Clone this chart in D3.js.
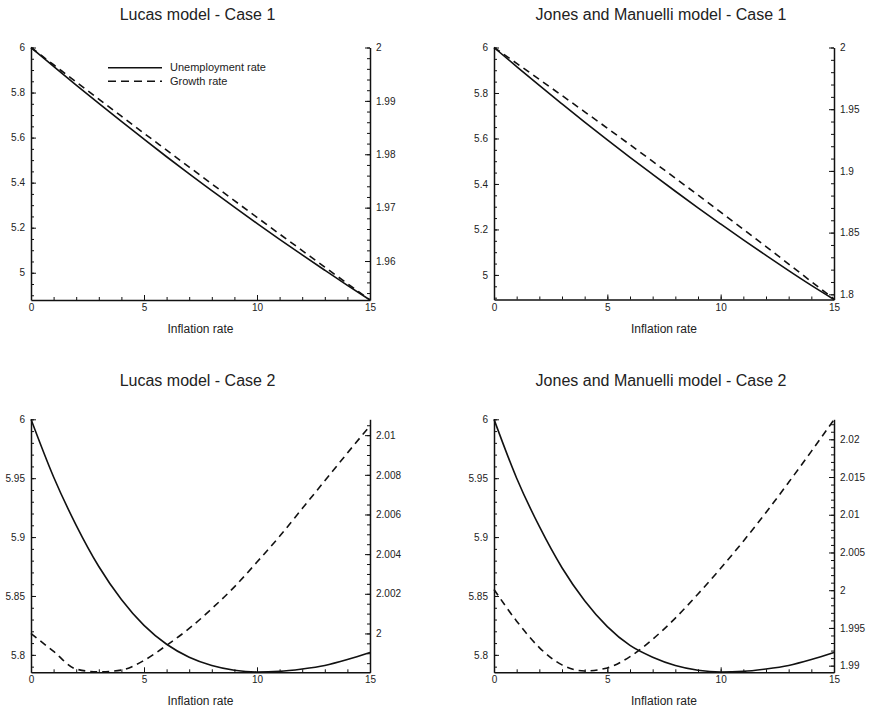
<!DOCTYPE html>
<html>
<head>
<meta charset="utf-8">
<script src="https://cdn.jsdelivr.net/npm/d3@7"></script>
<style>
body { margin:0; background:#fff; }
text { font-family:"Liberation Sans", Arial, Helvetica, sans-serif; fill:#222; }
</style>
</head>
<body>
<svg id="drawing_region"></svg>
<script>
// inflation rate grid (x)
const inflation = [0,1,2,3,4,5,6,7,8,9,10,11,12,13,14,15];

// Lucas model - Case 1
const lucas1Unemp  = [6.000,5.916,5.833,5.752,5.672,5.593,5.515,5.439,5.365,5.291,5.219,5.148,5.079,5.011,4.944,4.879];
const lucas1Growth = [2.0000,1.99677,1.99354,1.99033,1.98713,1.98394,1.98077,1.97760,1.97445,1.97131,1.96818,1.96506,1.96196,1.95886,1.95578,1.95271];

// Jones and Manuelli model - Case 1
const jm1Unemp  = [6.000,5.916,5.833,5.752,5.672,5.594,5.517,5.442,5.368,5.295,5.224,5.154,5.086,5.019,4.954,4.892];
const jm1Growth = [2.0000,1.98713,1.97415,1.96107,1.94789,1.93460,1.92121,1.90771,1.89411,1.88041,1.86660,1.85269,1.83867,1.82455,1.81033,1.79620];

// Lucas model - Case 2
const lucas2Unemp  = [6.000,5.951,5.910,5.875,5.847,5.825,5.809,5.798,5.791,5.787,5.7855,5.786,5.788,5.791,5.796,5.802];
const lucas2Growth = [2.0000,1.99909,1.99820,1.99806,1.99815,1.99864,1.99940,2.00025,2.00125,2.00235,2.00360,2.00490,2.00630,2.00770,2.00910,2.01047];

// Jones and Manuelli model - Case 2
const jm2Unemp  = [6.000,5.950,5.909,5.874,5.846,5.824,5.808,5.798,5.791,5.787,5.7855,5.786,5.788,5.791,5.796,5.802];
const jm2Growth = [2.0001,1.9959,1.9924,1.9901,1.9893,1.9897,1.9912,1.9935,1.9963,1.9995,2.0029,2.0065,2.0103,2.0143,2.0184,2.0226];

// tick labels
const xTicks = [0,5,10,15];
const case1LeftTicks = [5,5.2,5.4,5.6,5.8,6];
const case2LeftTicks = [5.8,5.85,5.9,5.95,6];
const lucas1RightTicks = [1.96,1.97,1.98,1.99,2];
const jm1RightTicks = [1.8,1.85,1.9,1.95,2];
const lucas2RightTicks = [2,2.002,2.004,2.006,2.008,2.01];
const jm2RightTicks = [1.99,1.995,2,2.005,2.01,2.015,2.02];

const legendLabels = ["Unemployment rate", "Growth rate"];

const svg = d3.select('#drawing_region')
    .attr('width', 869)
    .attr('height', 709);

class DualAxisPlot {

    constructor( config, unemp, growth ) {
        this.config = config;
        this.data = inflation.map( (x, i) => ({ x: x, u: unemp[i], g: growth[i] }) );
        this.init();
    }

    init() {
        let self = this;
        const c = self.config;

        self.inner_width = c.right - c.left;
        self.inner_height = c.bottom - c.top;

        self.chart = svg.append('g')
            .attr('transform', `translate(${c.left}, ${c.top})`);

        self.xscale = d3.scaleLinear()
            .domain( [0, 15] )
            .range( [0, self.inner_width] );

        self.yleft = d3.scaleLinear()
            .domain( c.left_domain )
            .range( [self.inner_height, 0] );

        self.yright = d3.scaleLinear()
            .domain( c.right_domain )
            .range( [self.inner_height, 0] );

        svg.append('text')
            .attr('x', (c.left + c.right) / 2 - 3)
            .attr('y', c.title_y)
            .attr('text-anchor', "middle")
            .attr('font-size', "16px")
            .text(c.title);

        svg.append('text')
            .attr('x', (c.left + c.right) / 2)
            .attr('y', c.bottom + 33)
            .attr('text-anchor', "middle")
            .attr('font-size', "12px")
            .text("Inflation rate");
    }

    minors( scale, step ) {
        const d = scale.domain();
        const lo = Math.min(d[0], d[1]), hi = Math.max(d[0], d[1]);
        return d3.range( Math.ceil(lo / step - 1e-6), Math.floor(hi / step + 1e-6) + 1 )
            .map( k => +(k * step).toFixed(6) );
    }

    render() {
        let self = this;
        const c = self.config;
        const fmt = d3.format("~g");
        const w = self.inner_width, h = self.inner_height;

        const styleAxis = g => {
            g.attr('font-size', 10);
            g.select('.domain').attr('stroke', "#111").attr('stroke-width', 1.5);
            g.selectAll('.tick line').attr('stroke', "#111").attr('stroke-width', 1);
        };
        const noDomain = g => g.select('.domain').remove();

        // minor ticks
        self.chart.append('g')
            .attr('transform', `translate(0, ${h})`)
            .call( d3.axisBottom(self.xscale).tickValues( self.minors(self.xscale, 1) ).tickSize(-3).tickFormat("") )
            .call(noDomain).call(styleAxis);
        self.chart.append('g')
            .call( d3.axisLeft(self.yleft).tickValues( self.minors(self.yleft, c.left_minor) ).tickSize(-3).tickFormat("") )
            .call(noDomain).call(styleAxis);
        self.chart.append('g')
            .attr('transform', `translate(${w}, 0)`)
            .call( d3.axisRight(self.yright).tickValues( self.minors(self.yright, c.right_minor) ).tickSize(-3).tickFormat("") )
            .call(noDomain).call(styleAxis);

        // major ticks and axis lines
        self.chart.append('g')
            .attr('transform', `translate(0, ${h})`)
            .call( d3.axisBottom(self.xscale).tickValues(xTicks).tickSize(-5).tickSizeOuter(0).tickPadding(4).tickFormat(fmt) )
            .call(styleAxis);
        self.chart.append('g')
            .call( d3.axisLeft(self.yleft).tickValues(c.left_ticks).tickSize(-5).tickSizeOuter(0).tickPadding(6).tickFormat(fmt) )
            .call(styleAxis);
        self.chart.append('g')
            .attr('transform', `translate(${w}, 0)`)
            .call( d3.axisRight(self.yright).tickValues(c.right_ticks).tickSize(-5).tickSizeOuter(0).tickPadding(6).tickFormat(fmt) )
            .call(styleAxis);

        const uline = d3.line()
            .x( d => self.xscale(d.x) )
            .y( d => self.yleft(d.u) )
            .curve(d3.curveMonotoneX);
        const gline = d3.line()
            .x( d => self.xscale(d.x) )
            .y( d => self.yright(d.g) )
            .curve(d3.curveMonotoneX);

        self.chart.append('path')
            .datum(self.data)
            .attr('fill', "none")
            .attr('stroke', "#111")
            .attr('stroke-width', 1.6)
            .attr('stroke-dasharray', "7,5")
            .attr('d', gline);

        self.chart.append('path')
            .datum(self.data)
            .attr('fill', "none")
            .attr('stroke', "#111")
            .attr('stroke-width', 1.6)
            .attr('d', uline);

        if (c.legend) {
            const lg = svg.append('g');
            legendLabels.forEach( (label, i) => {
                const y = c.legend.y + i * 13.5;
                lg.append('line')
                    .attr('x1', c.legend.x).attr('x2', c.legend.x + 54)
                    .attr('y1', y).attr('y2', y)
                    .attr('stroke', "#111")
                    .attr('stroke-width', 1.6)
                    .attr('stroke-dasharray', i == 0 ? null : "8,5");
                lg.append('text')
                    .attr('x', c.legend.x + 62)
                    .attr('y', y + 3.6)
                    .attr('font-size', "11px")
                    .text(label);
            });
        }
    }
}

const panels = [
    { config: { title: "Lucas model - Case 1", left: 31, right: 370, top: 47.5, bottom: 300, title_y: 19.5,
                left_domain: [4.879, 6], right_domain: [1.9527, 2],
                left_ticks: case1LeftTicks, right_ticks: lucas1RightTicks, left_minor: 0.05, right_minor: 0.002,
                legend: { x: 108, y: 67.7 } },
      unemp: lucas1Unemp, growth: lucas1Growth },
    { config: { title: "Jones and Manuelli model - Case 1", left: 494, right: 834, top: 47.5, bottom: 299.5, title_y: 19.5,
                left_domain: [4.892, 6], right_domain: [1.7958, 2],
                left_ticks: case1LeftTicks, right_ticks: jm1RightTicks, left_minor: 0.05, right_minor: 0.01 },
      unemp: jm1Unemp, growth: jm1Growth },
    { config: { title: "Lucas model - Case 2", left: 31, right: 370, top: 419.3, bottom: 672.3, title_y: 385.5,
                left_domain: [5.7852, 6], right_domain: [1.99804, 2.0108],
                left_ticks: case2LeftTicks, right_ticks: lucas2RightTicks, left_minor: 0.01, right_minor: 0.0005 },
      unemp: lucas2Unemp, growth: lucas2Growth },
    { config: { title: "Jones and Manuelli model - Case 2", left: 494, right: 834, top: 419.3, bottom: 672.3, title_y: 385.5,
                left_domain: [5.7852, 6], right_domain: [1.98912, 2.02265],
                left_ticks: case2LeftTicks, right_ticks: jm2RightTicks, left_minor: 0.01, right_minor: 0.001 },
      unemp: jm2Unemp, growth: jm2Growth }
];

panels.forEach( p => {
    const plot = new DualAxisPlot( p.config, p.unemp, p.growth );
    plot.render();
});
</script>
</body>
</html>
